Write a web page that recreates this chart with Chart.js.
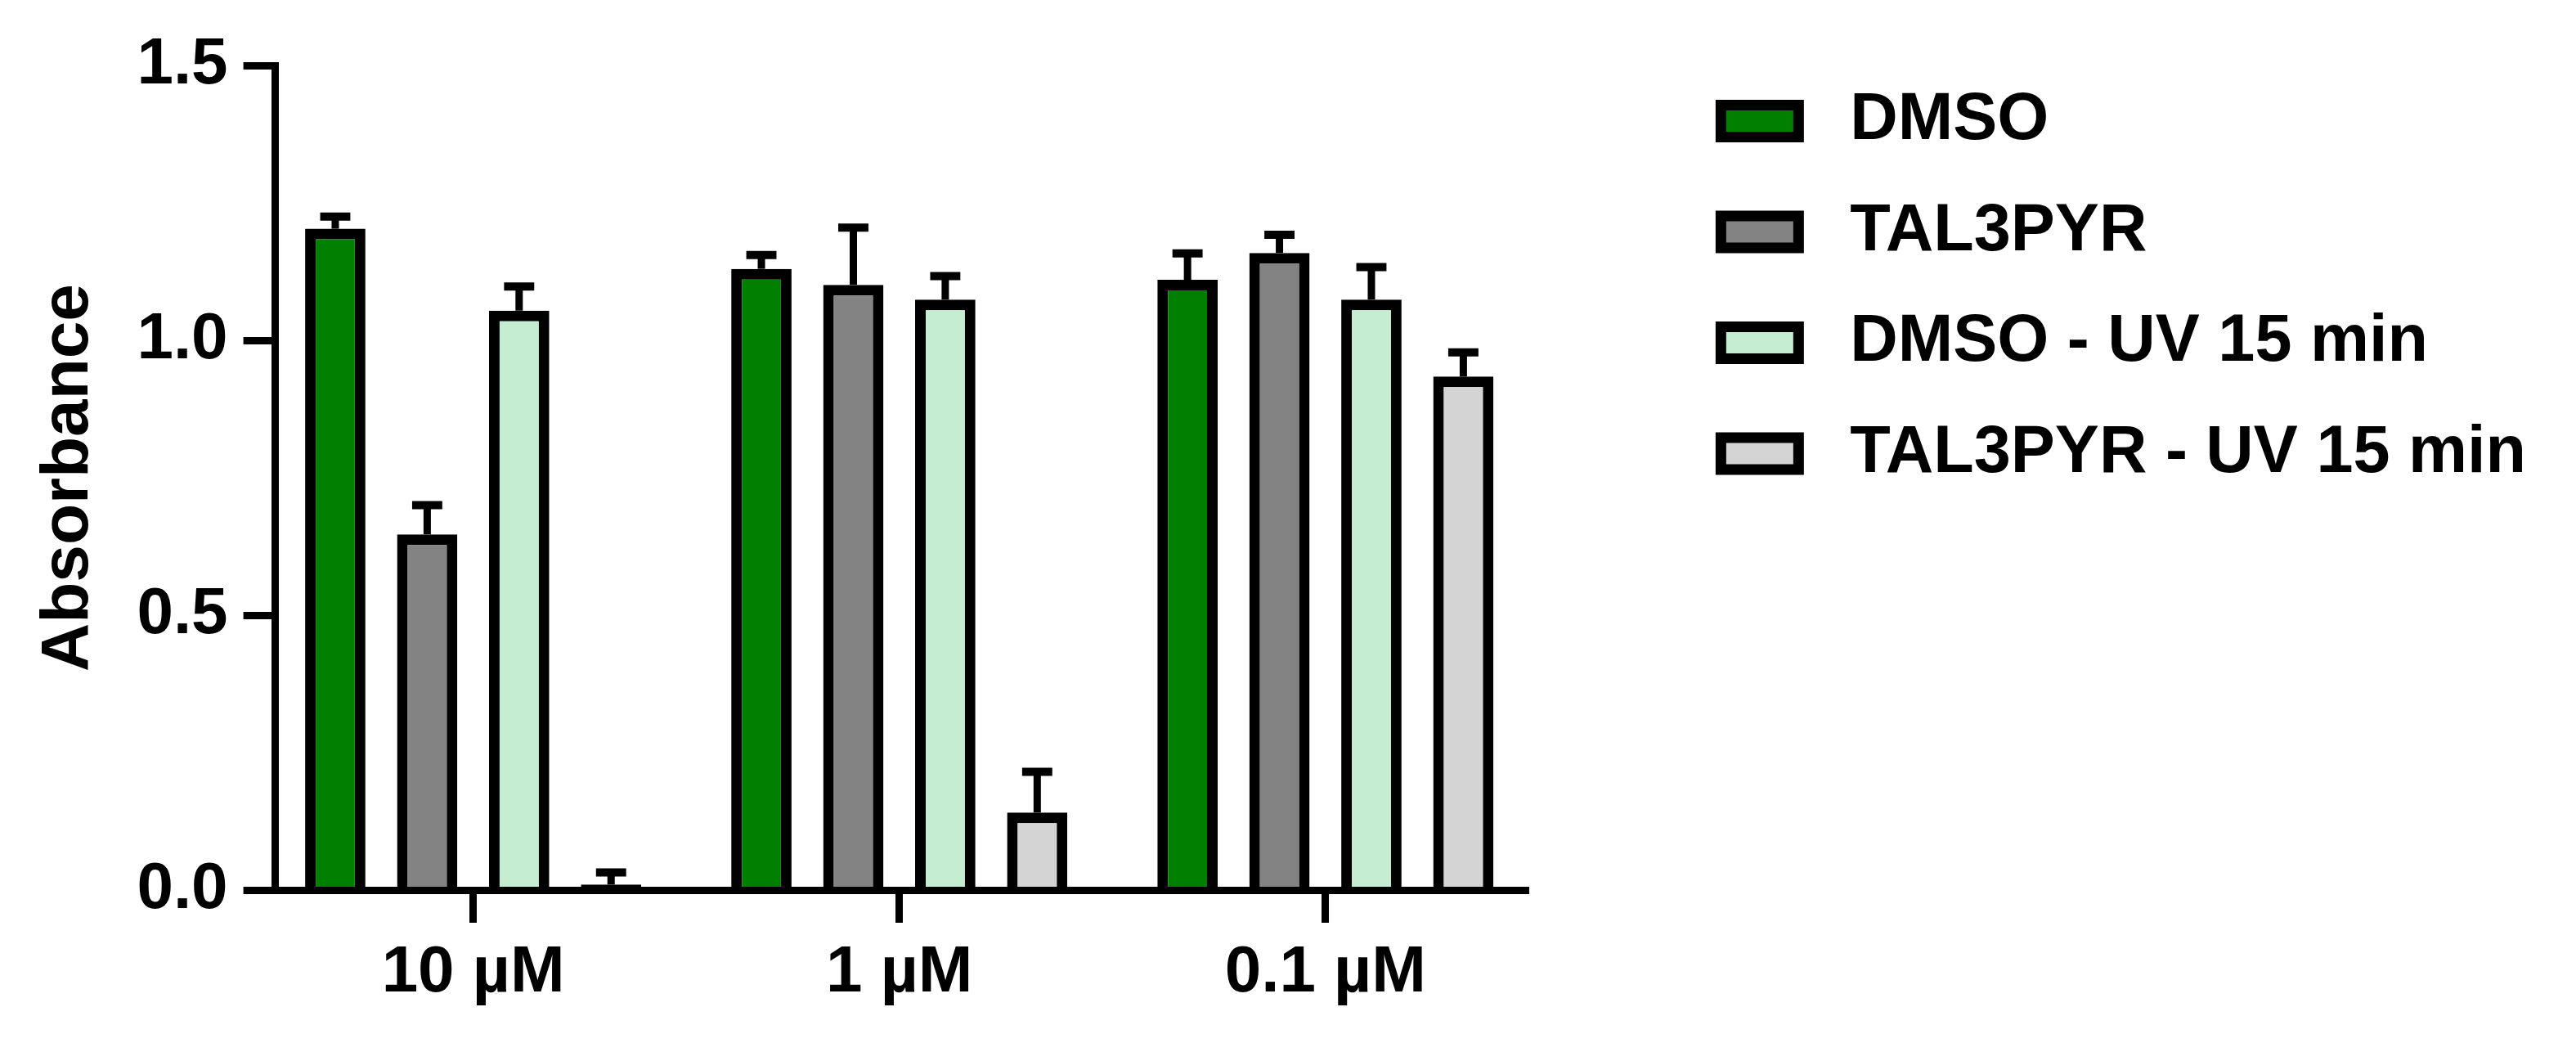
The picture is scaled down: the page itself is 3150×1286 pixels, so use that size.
<!DOCTYPE html>
<html>
<head>
<meta charset="utf-8">
<title>Absorbance</title>
<script src="https://cdn.jsdelivr.net/npm/chart.js@4/dist/chart.umd.min.js"></script>
<style>
  html, body { margin: 0; padding: 0; background: #fff; }
  #wrap { width: 3150px; height: 1286px; }
</style>
</head>
<body>
<div id="wrap"><canvas id="grafico"></canvas></div>
<script>
// categorias y series
const doses = ['10 µM', '1 µM', '0.1 µM'];
const seriesNames = ['DMSO', 'TAL3PYR', 'DMSO - UV 15 min', 'TAL3PYR - UV 15 min'];
const seriesColors = ['#007f00', '#838383', '#c4edd1', '#d4d4d4'];

// medias
const dmso = [1.203, 1.130, 1.110];
const tal3pyr = [0.647, 1.101, 1.159];
const dmsoUV = [1.054, 1.074, 1.074];
const tal3pyrUV = [0.010, 0.141, 0.934];

// desviacion (solo barra superior)
const dmsoErr = [0.022, 0.025, 0.048];
const tal3pyrErr = [0.053, 0.104, 0.033];
const dmsoUVErr = [0.044, 0.043, 0.059];
const tal3pyrUVErr = [0.022, 0.074, 0.044];

const yTicks = [0, 0.5, 1.0, 1.5];

const medias = [dmso, tal3pyr, dmsoUV, tal3pyrUV];
const errores = [dmsoErr, tal3pyrErr, dmsoUVErr, tal3pyrUVErr];

Chart.defaults.font.family = "'Liberation Sans', Arial, sans-serif";
Chart.defaults.color = '#000';

const fuente = { size: 80, weight: 'bold' };

// barras de error hacia arriba
const errorBars = {
  id: 'errorBars',
  afterDatasetsDraw(chart) {
    const ctx = chart.ctx;
    const y = chart.scales.y;
    ctx.save();
    ctx.strokeStyle = '#000';
    chart.data.datasets.forEach((ds, di) => {
      const meta = chart.getDatasetMeta(di);
      meta.data.forEach((bar, i) => {
        const top = y.getPixelForValue(ds.data[i].y + ds.errors[i]);
        const half = bar.width / 4;
        ctx.lineWidth = 9;
        ctx.beginPath();
        ctx.moveTo(bar.x, bar.y);
        ctx.lineTo(bar.x, top);
        ctx.stroke();
        ctx.lineWidth = 10;
        ctx.beginPath();
        ctx.moveTo(bar.x - half, top);
        ctx.lineTo(bar.x + half, top);
        ctx.stroke();
      });
    });
    ctx.restore();
  }
};

const datasets = seriesNames.map((name, k) => ({
  label: name,
  data: medias[k].map((v, i) => ({ x: i, y: v })),
  errors: errores[k],
  backgroundColor: seriesColors[k],
  borderColor: '#000',
  borderWidth: 13,
  yAxisID: 'y',
  barPercentage: 0.656,
  categoryPercentage: 0.863
}));

const etiquetasLeyenda = chart =>
  Chart.defaults.plugins.legend.labels.generateLabels(chart)
    .map(item => Object.assign(item, { text: ' ' + item.text }));

new Chart(document.getElementById('grafico'), {
  type: 'bar',
  data: { datasets },
  plugins: [errorBars],
  options: {
    responsive: true,
    maintainAspectRatio: false,
    animation: false,
    layout: { padding: { top: 53, left: 0, right: 51, bottom: 34 } },
    plugins: {
      tooltip: { enabled: false },
      title: { display: true, text: ' ', font: { size: 10 }, padding: { top: 0, bottom: 15 } },
      legend: {
        position: 'right',
        align: 'start',
        maxWidth: 1200,
        labels: {
          font: { size: 81, weight: 'bold' },
          color: '#000',
          boxWidth: 95,
          boxHeight: 39,
          padding: 54.5,
          generateLabels: etiquetasLeyenda
        }
      }
    },
    scales: {
      x: {
        type: 'linear',
        offset: false,
        min: -0.4644,
        max: 2.478,
        afterBuildTicks: s => { s.ticks = doses.map((d, i) => ({ value: i })); },
        ticks: {
          callback: v => doses[v],
          font: fuente,
          color: '#000',
          padding: 14,
          maxRotation: 0,
          autoSkip: false
        },
        grid: { offset: false, drawOnChartArea: false, tickLength: 40, tickWidth: 9, tickColor: '#000' },
        border: { width: 9, color: '#000', z: 1 }
      },
      y: {
        min: 0,
        max: 1.5,
        afterBuildTicks: s => { s.ticks = yTicks.map(v => ({ value: v })); },
        ticks: {
          callback: v => v.toFixed(1),
          font: fuente,
          color: '#000',
          padding: 19
        },
        grid: { drawOnChartArea: false, tickLength: 39, tickWidth: 9, tickColor: '#000' },
        border: { width: 9, color: '#000', z: 1 },
        title: {
          display: true,
          text: 'Absorbance',
          font: { size: 82, weight: 'bold' },
          color: '#000',
          padding: { top: 35, bottom: 15 }
        }
      },
      // hueco entre el grafico y la leyenda
      gap: {
        type: 'linear',
        position: 'right',
        grid: { display: false },
        border: { display: false },
        ticks: { display: false },
        afterFit: s => { s.width = 180; }
      }
    }
  }
});
</script>
</body>
</html>
